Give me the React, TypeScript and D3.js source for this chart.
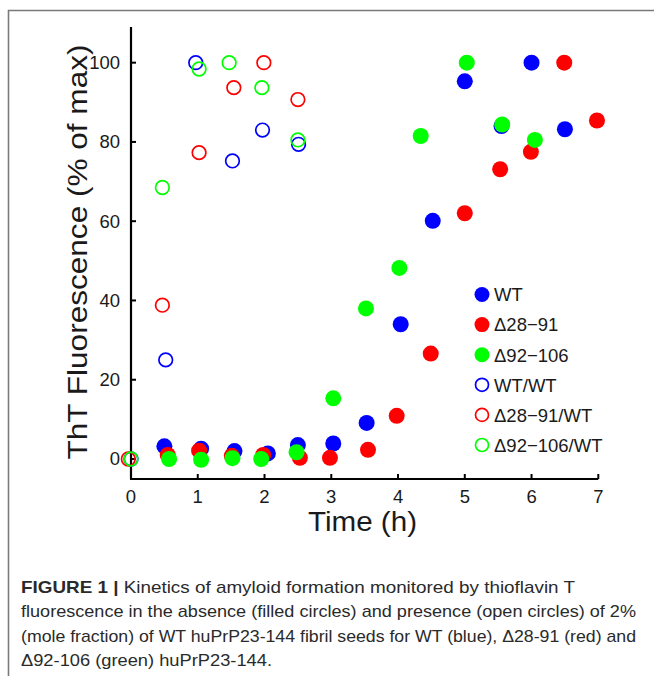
import React from "react";
import * as d3 from "d3";

const wtX = [0.5, 1.05, 1.55, 2.05, 2.5, 3.03, 3.53, 4.04, 4.52, 5.0, 5.55, 6.0, 6.5];
const wtY = [3.2, 2.6, 2.0, 1.4, 3.5, 3.9, 9.1, 34, 60.1, 95.3, 84.0, 100, 83.2];

const d28X = [0.55, 1.02, 1.51, 1.98, 2.53, 2.98, 3.55, 3.98, 4.49, 5.0, 5.53, 5.99, 6.49, 6.98];
const d28Y = [1.0, 2.1, 0.8, 1.0, 0.3, 0.3, 2.3, 10.9, 26.6, 62.0, 73.1, 77.5, 100, 85.4];

const d92X = [0.57, 1.05, 1.52, 1.95, 2.48, 3.03, 3.52, 4.02, 4.34, 5.03, 5.56, 6.05];
const d92Y = [0.0, -0.2, 0.2, 0.0, 1.7, 15.3, 38.0, 48.2, 81.5, 100, 84.4, 80.5];

const wtwtX = [0, 0.52, 0.97, 1.52, 1.97, 2.51];
const wtwtY = [0, 25.0, 100, 75.2, 83.0, 79.4];

const d28wtX = [-0.04, 0.47, 1.02, 1.54, 1.99, 2.5];
const d28wtY = [0, 38.8, 77.3, 93.7, 100, 90.7];

const d92wtX = [0, 0.47, 1.02, 1.47, 1.96, 2.5];
const d92wtY = [0, 68.5, 98.4, 100, 93.7, 80.5];

const xTicks = [0, 1, 2, 3, 4, 5, 6, 7];
const yTicks = [0, 20, 40, 60, 80, 100];

const seriesNames = ["WT", "Δ28−91", "Δ92−106", "WT/WT", "Δ28−91/WT", "Δ92−106/WT"];
const seriesColors = ["#0000ff", "#ff0000", "#00ff00", "#0000ff", "#ff0000", "#00ff00"];
const seriesFilled = [true, true, true, false, false, false];

const captionLines = [
  "Kinetics of amyloid formation monitored by thioflavin T",
  "fluorescence in the absence (filled circles) and presence (open circles) of 2%",
  "(mole fraction) of WT huPrP23-144 fibril seeds for WT (blue), Δ28-91 (red) and",
  "Δ92-106 (green) huPrP23-144.",
];

const seriesX = [wtX, d28X, d92X, wtwtX, d28wtX, d92wtX];
const seriesY = [wtY, d28Y, d92Y, wtwtY, d28wtY, d92wtY];

export default function App() {
  const W = 654;
  const H = 676;
  const x = d3.scaleLinear().domain([0, 7]).range([131, 598.3]);
  const y = d3.scaleLinear().domain([-5.05, 109]).range([479, 27]);
  const font = "'Liberation Sans', Arial, sans-serif";
  const txt = "#1a1a1a";

  const legendX = 482;
  const legendY0 = 294.5;
  const legendDy = 30.1;

  const captionW = [554, 615, 615, 251];

  return (
    <svg
      width={W}
      height={H}
      style={{ position: "absolute", left: 0, top: 0, background: "#fff" }}
      fontFamily={font}
    >
      <rect x={0} y={0} width={W} height={H} fill="#fff" />
      {/* frame */}
      <line x1={8} y1={10.5} x2={W} y2={10.5} stroke="#7a7a7a" strokeWidth={1.6} />
      <line x1={8.5} y1={10} x2={8.5} y2={H} stroke="#7a7a7a" strokeWidth={1.6} />

      {/* axes */}
      <line x1={x(0)} y1={y.range()[0]} x2={x(0)} y2={y.range()[1]} stroke="#000" strokeWidth={2.2} />
      <line x1={x(0) - 1} y1={y.range()[0]} x2={x(7)} y2={y.range()[0]} stroke="#000" strokeWidth={2.2} />
      {xTicks.map((t) => (
        <g key={"xt" + t}>
          <line x1={x(t)} x2={x(t)} y1={479} y2={474} stroke="#000" strokeWidth={2} />
          <text x={x(t)} y={502.5} textAnchor="middle" fontSize={18.5} fill={txt}>
            {t}
          </text>
        </g>
      ))}
      {yTicks.map((t) => (
        <g key={"yt" + t}>
          <line x1={131} x2={136} y1={y(t)} y2={y(t)} stroke="#000" strokeWidth={2} />
          <text x={120} y={y(t) + 6.5} textAnchor="end" fontSize={18.5} fill={txt}>
            {t}
          </text>
        </g>
      ))}

      <text x={362.5} y={531} textAnchor="middle" fontSize={27} fill={txt} textLength={109} lengthAdjust="spacingAndGlyphs">
        Time (h)
      </text>
      <text
        transform={`translate(87,252) rotate(-90)`}
        textAnchor="middle"
        fontSize={27}
        fill={txt}
        textLength={415}
        lengthAdjust="spacingAndGlyphs"
      >
        ThT Fluorescence (% of max)
      </text>

      {/* data */}
      {seriesX.map((xs, si) => (
        <g key={"s" + si}>
          {xs.map((xv, i) =>
            seriesFilled[si] ? (
              <circle key={i} cx={x(xv)} cy={y(seriesY[si][i])} r={8} fill={seriesColors[si]} />
            ) : (
              <circle
                key={i}
                cx={x(xv)}
                cy={y(seriesY[si][i])}
                r={6.8}
                fill="none"
                stroke={seriesColors[si]}
                strokeWidth={1.7}
              />
            )
          )}
        </g>
      ))}

      {/* legend */}
      {seriesNames.map((n, i) => (
        <g key={"lg" + i}>
          {seriesFilled[i] ? (
            <circle cx={legendX} cy={legendY0 + i * legendDy} r={7.5} fill={seriesColors[i]} />
          ) : (
            <circle
              cx={legendX}
              cy={legendY0 + i * legendDy}
              r={6.5}
              fill="none"
              stroke={seriesColors[i]}
              strokeWidth={1.7}
            />
          )}
          <text x={494} y={legendY0 + i * legendDy + 6.8} fontSize={18.5} fill={txt}>
            {n}
          </text>
        </g>
      ))}

      {/* caption */}
      {captionLines.map((line, i) => (
        <text
          key={"cap" + i}
          x={21}
          y={593 + i * 24.4}
          fontSize={17}
          fill="#2a2a2a"
          textLength={captionW[i]}
          lengthAdjust="spacingAndGlyphs"
        >
          {i === 0 ? (
            <>
              <tspan fontWeight="bold">FIGURE 1 | </tspan>
              <tspan>{line}</tspan>
            </>
          ) : (
            line
          )}
        </text>
      ))}
    </svg>
  );
}
